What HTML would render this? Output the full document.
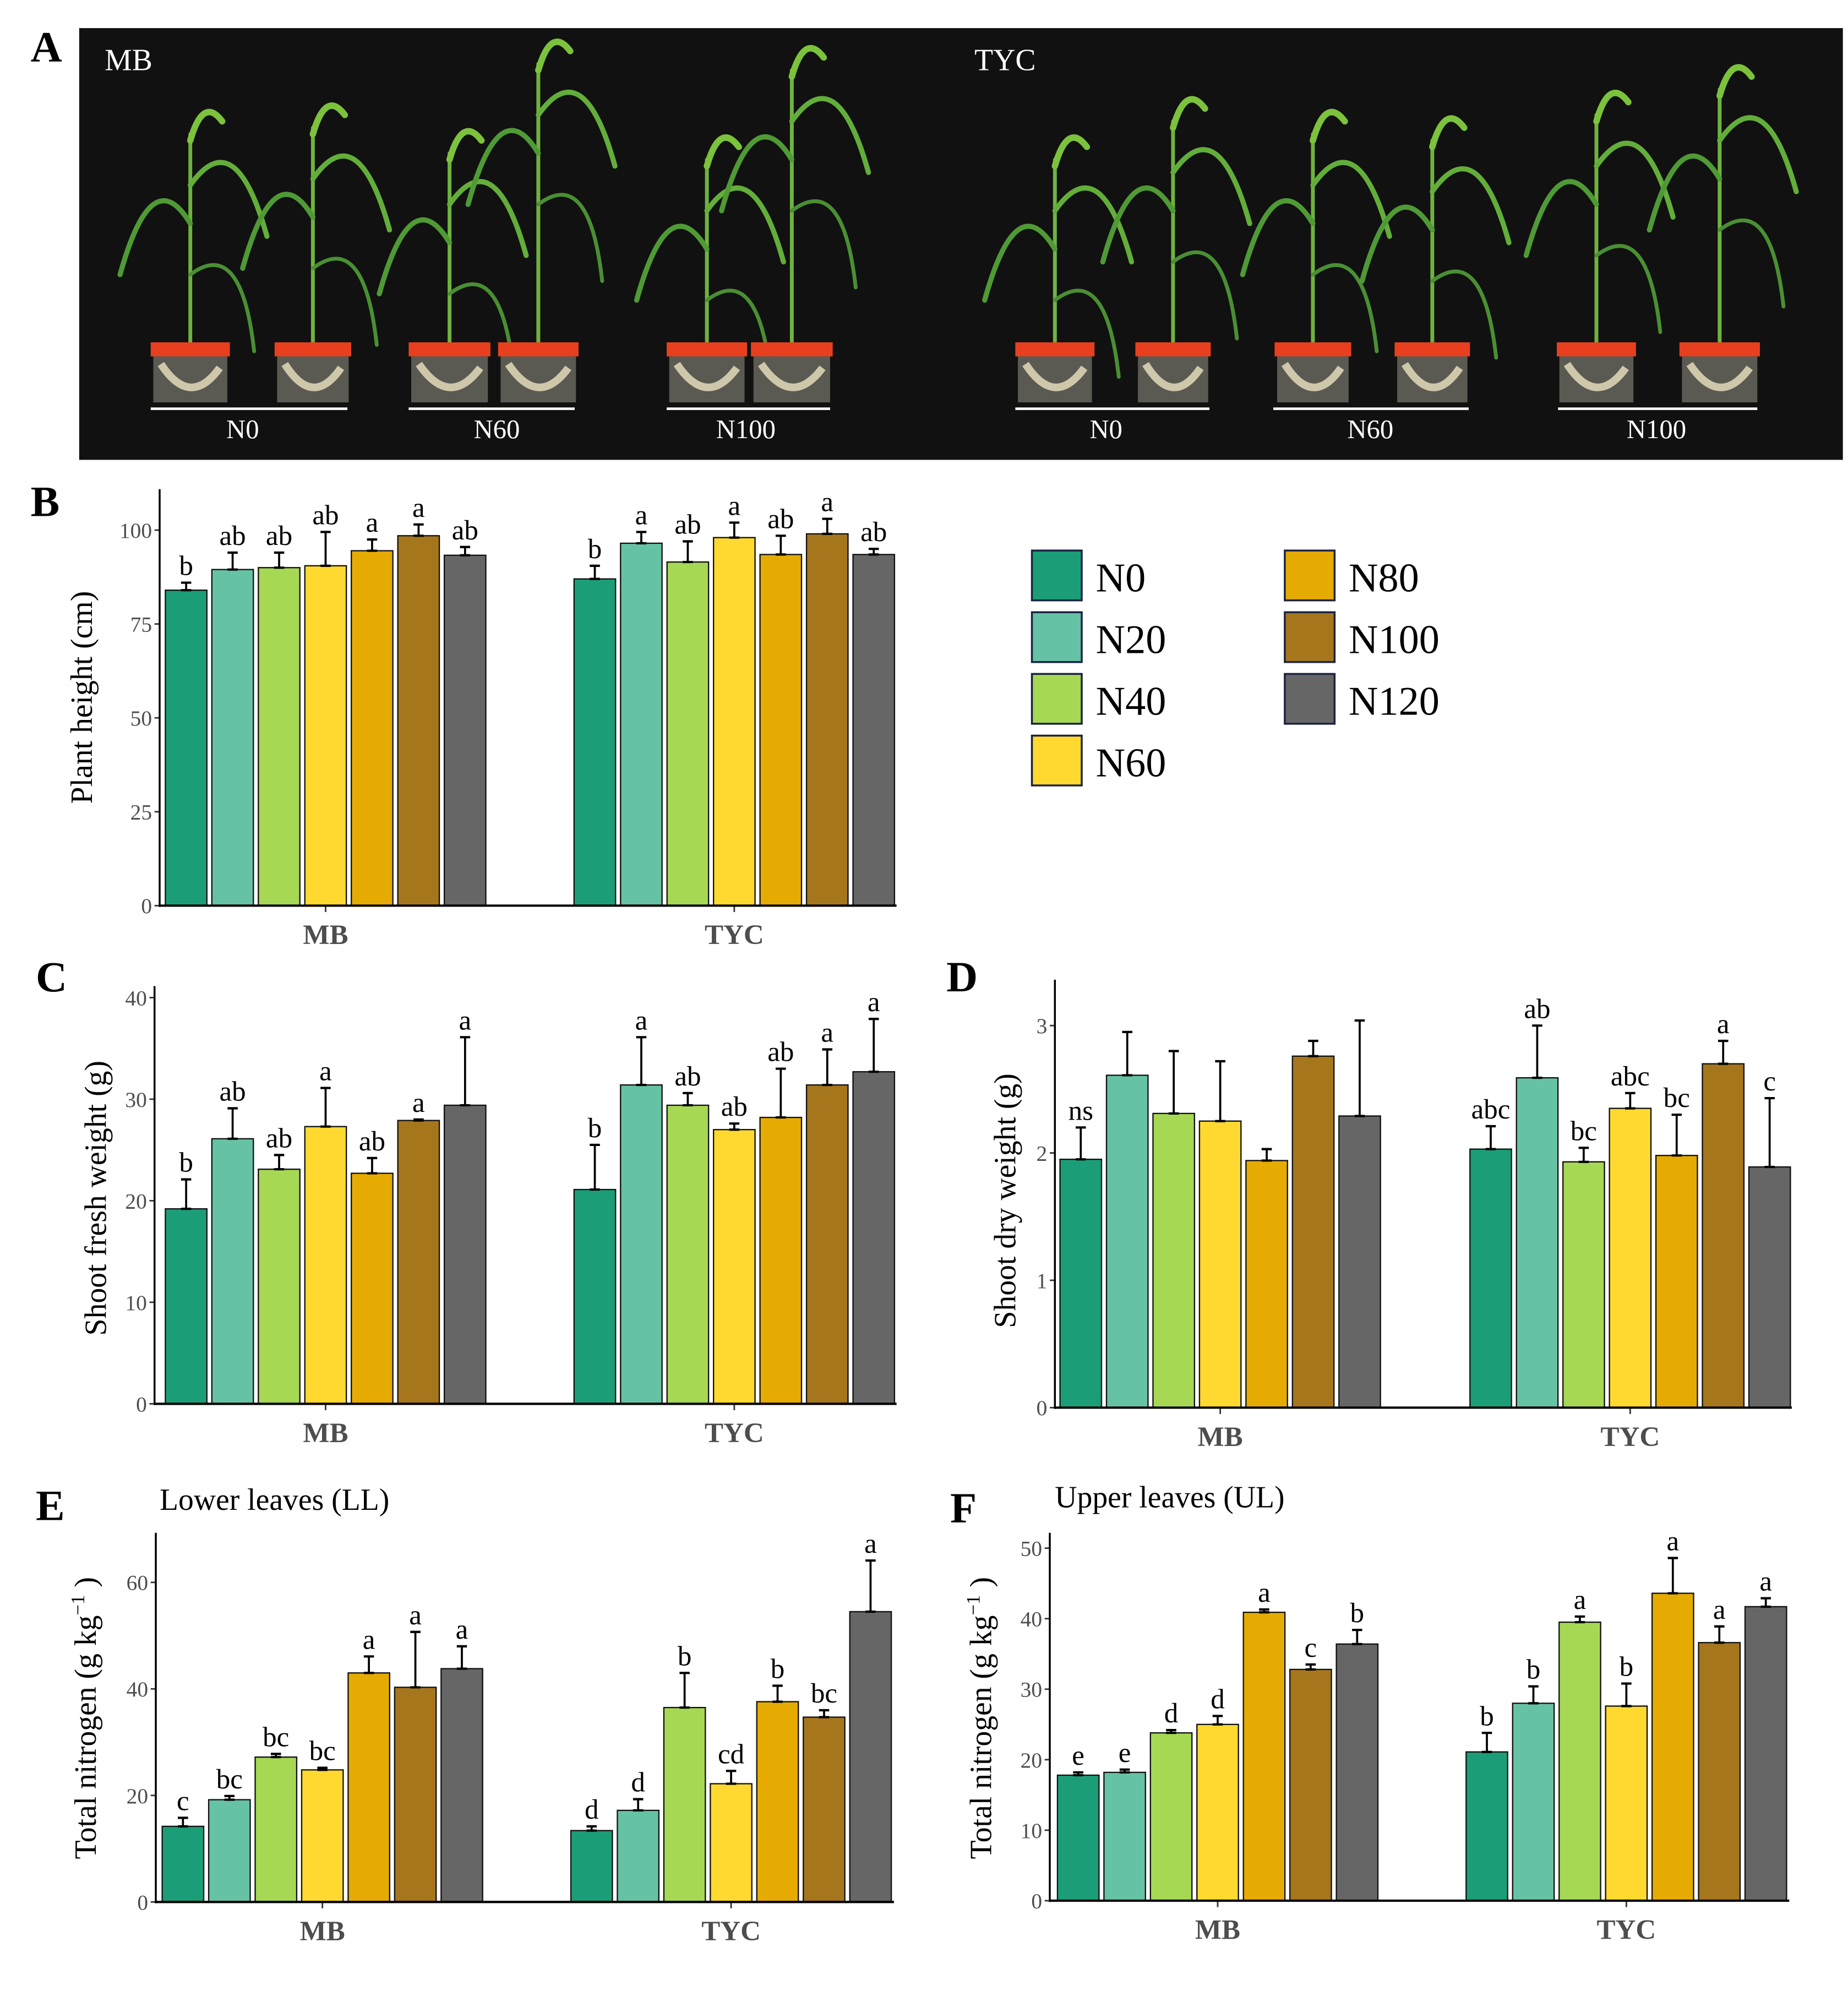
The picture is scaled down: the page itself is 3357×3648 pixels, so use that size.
<!DOCTYPE html>
<html><head><meta charset="utf-8"><style>
html,body{margin:0;padding:0;background:#fff}
svg{display:block}
text{font-family:"Liberation Serif",serif}
</style></head><body>
<svg id="fig" width="3357" height="3648" viewBox="0 0 1447 1572" preserveAspectRatio="none" xmlns="http://www.w3.org/2000/svg">
<g id="photo">
<rect x="62" y="22" width="1381" height="338" fill="#111"/>
</g>
<g id="charts"></g>
</svg>
<script>
const NS="http://www.w3.org/2000/svg";
const colors=["#1b9e77","#66c2a5","#a6d854","#ffd92f","#e6ab02","#a6761d","#666666"];
const treatments=["N0","N20","N40","N60","N80","N100","N120"];
const groups=["MB","TYC"];

const bMB=[84,89.5,90,90.5,94.5,98.5,93.3];
const bMBerr=[2,4.5,4,9,3,3,2.2];
const bTYC=[87,96.5,91.5,98,93.5,99,93.5];
const bTYCerr=[3.5,3,5.5,4,5,4,1.5];
const bMBlet=["b","ab","ab","ab","a","a","ab"];
const bTYClet=["b","a","ab","a","ab","a","ab"];
const bTicks=[0,25,50,75,100];

const cMB=[19.2,26.1,23.1,27.3,22.7,27.9,29.4];
const cMBerr=[2.9,3,1.4,3.8,1.5,0.1,6.7];
const cTYC=[21.1,31.4,29.4,27.0,28.2,31.4,32.7];
const cTYCerr=[4.4,4.7,1.2,0.6,4.8,3.5,5.2];
const cMBlet=["b","ab","ab","a","ab","a","a"];
const cTYClet=["b","a","ab","ab","ab","a","a"];
const cTicks=[0,10,20,30,40];

const dMB=[1.95,2.61,2.31,2.25,1.94,2.76,2.29];
const dMBerr=[0.25,0.34,0.49,0.47,0.09,0.12,0.75];
const dTYC=[2.03,2.59,1.93,2.35,1.98,2.70,1.89];
const dTYCerr=[0.18,0.41,0.11,0.12,0.32,0.18,0.54];
const dMBlet=["ns","","","","","",""];
const dTYClet=["abc","ab","bc","abc","bc","a","c"];
const dTicks=[0,1,2,3];

const eMB=[14.2,19.2,27.2,24.8,43.0,40.3,43.8];
const eMBerr=[1.6,0.7,0.6,0.4,3.1,10.4,4.2];
const eTYC=[13.4,17.2,36.5,22.2,37.6,34.7,54.5];
const eTYCerr=[0.8,2.1,6.5,2.4,3.0,1.3,9.6];
const eMBlet=["c","bc","bc","bc","a","a","a"];
const eTYClet=["d","d","b","cd","b","bc","a"];
const eTicks=[0,20,40,60];

const fMB=[17.8,18.2,23.8,25.0,40.9,32.8,36.4];
const fMBerr=[0.4,0.4,0.4,1.2,0.4,0.7,2.0];
const fTYC=[21.1,28.0,39.5,27.6,43.6,36.6,41.7];
const fTYCerr=[2.7,2.4,0.8,3.2,5.0,2.3,1.2];
const fMBlet=["e","e","d","d","a","c","b"];
const fTYClet=["b","b","a","b","a","a","a"];
const fTicks=[0,10,20,30,40,50];

function el(tag,attrs,parent,txt){
  const e=document.createElementNS(NS,tag);
  for(const k in attrs)e.setAttribute(k,attrs[k]);
  if(txt!==undefined)e.textContent=txt;
  (parent||document.getElementById('charts')).appendChild(e);
  return e;
}

function chart(cfg){
  const g=el('g',{});
  
  
  const y=v=>cfg.y0-(v-cfg.vmin)*cfg.ppu;
  // ticks
  cfg.ticks.forEach(t=>{
    const tl=el('text',{x:cfg.ax-6,y:y(t)+6,'text-anchor':'end','font-size':17,fill:'#4d4d4d'},g,String(t));
    
    
    el('line',{x1:cfg.ax-4,x2:cfg.ax,y1:y(t),y2:y(t),stroke:'#333','stroke-width':1.2},g);
  });
  const bw=32.5, step=36.4;
  const sets=[[cfg.mb,cfg.mbErr,cfg.mbLet,cfg.g1],[cfg.tyc,cfg.tycErr,cfg.tycLet,cfg.g2]];
  sets.forEach((s,gi)=>{
    s[0].forEach((v,i)=>{
      const x=s[3]+i*step;
      const r=el('rect',{x:x,y:y(v),width:bw,height:cfg.y0-y(v),fill:colors[i],stroke:'#111','stroke-width':1},g);
      
      
      const cx=x+bw/2, top=y(v+s[1][i]);
      el('line',{x1:cx,x2:cx,y1:y(v),y2:top,stroke:'#000','stroke-width':1.6},g);
      el('line',{x1:cx-4,x2:cx+4,y1:top,y2:top,stroke:'#000','stroke-width':1.8},g);
      el('line',{x1:cx-4,x2:cx+4,y1:y(v),y2:y(v),stroke:'#000','stroke-width':1.8},g);
      if(s[2][i]){
        const lt=el('text',{x:cx,y:top-6,'text-anchor':'middle','font-size':22,fill:'#000'},g,s[2][i]);
        
        
      }
    });
    const gc=s[3]+3*step+bw/2;
    el('line',{x1:gc,x2:gc,y1:cfg.y0,y2:cfg.y0+5,stroke:'#333','stroke-width':1.2},g);
    const xl=el('text',{x:gc,y:cfg.y0+30,'text-anchor':'middle','font-size':22,'font-weight':'bold',fill:'#4d4d4d'},g,groups[gi]);
    
    
  });
  el('line',{x1:cfg.ax,x2:cfg.ax,y1:cfg.ytop,y2:cfg.y0+1,stroke:'#000','stroke-width':1.5},g);
  el('line',{x1:cfg.ax,x2:cfg.axEnd,y1:cfg.y0,y2:cfg.y0,stroke:'#000','stroke-width':1.8},g);
  const yt=el('text',{x:0,y:0,'text-anchor':'middle','font-size':24,fill:'#000',transform:`translate(${cfg.ytx},${cfg.yty}) rotate(-90)`},g);
  
  
  if(cfg.sup){
    yt.textContent=cfg.title;
    const ts=el('tspan',{dy:-9,'font-size':15},yt,'−1');
    el('tspan',{dy:9},yt,' )');
  } else yt.textContent=cfg.title;
  const pl=el('text',{x:cfg.plx,y:cfg.ply,'font-size':34,'font-weight':'bold',fill:'#000'},g,cfg.letter);
  
  
  if(cfg.sub){
    const st=el('text',{x:cfg.subx,y:cfg.suby,'font-size':24,fill:'#000'},g,cfg.sub);
    
    
  }
}

chart({name:'panel-b-plant-height',letter:'B',plx:24,ply:404,ax:125,axEnd:702,y0:709,ytop:383,vmin:0,ppu:2.94,ticks:bTicks,g1:129.5,g2:449.5,mb:bMB,mbErr:bMBerr,mbLet:bMBlet,tyc:bTYC,tycErr:bTYCerr,tycLet:bTYClet,title:'Plant height (cm)',ytx:72,yty:546});
chart({name:'panel-c-shoot-fresh-weight',letter:'C',plx:28,ply:776,ax:121,axEnd:702,y0:1099,ytop:772,vmin:0,ppu:7.95,ticks:cTicks,g1:129.5,g2:449.5,mb:cMB,mbErr:cMBerr,mbLet:cMBlet,tyc:cTYC,tycErr:cTYCerr,tycLet:cTYClet,title:'Shoot fresh weight (g)',ytx:83,yty:938});
chart({name:'panel-d-shoot-dry-weight',letter:'D',plx:741,ply:776,ax:826,axEnd:1403,y0:1102,ytop:767,vmin:0,ppu:99.7,ticks:dTicks,g1:830,g2:1151,mb:dMB,mbErr:dMBerr,mbLet:dMBlet,tyc:dTYC,tycErr:dTYCerr,tycLet:dTYClet,title:'Shoot dry weight (g)',ytx:795,yty:940});
chart({name:'panel-e-total-nitrogen-ll',letter:'E',plx:28,ply:1190,ax:122,axEnd:700,y0:1489,ytop:1200,vmin:0,ppu:4.17,ticks:eTicks,g1:127,g2:447,mb:eMB,mbErr:eMBerr,mbLet:eMBlet,tyc:eTYC,tycErr:eTYCerr,tycLet:eTYClet,title:'Total nitrogen (g kg',sup:true,ytx:75,yty:1345,sub:'Lower leaves (LL)',subx:125,suby:1182});
chart({name:'panel-f-total-nitrogen-ul',letter:'F',plx:744,ply:1192,ax:822,axEnd:1401,y0:1488,ytop:1200,vmin:0,ppu:5.52,ticks:fTicks,g1:828,g2:1148,mb:fMB,mbErr:fMBerr,mbLet:fMBlet,tyc:fTYC,tycErr:fTYCerr,tycLet:fTYClet,title:'Total nitrogen (g kg',sup:true,ytx:776,yty:1345,sub:'Upper leaves (UL)',subx:826,suby:1180});

// legend
const lg=el('g',{});


treatments.forEach((t,i)=>{
  const col=i<4?0:1, row=i<4?i:i-4;
  const x=808+col*198, yy=431+row*48.3;
  const r=el('rect',{x:x,y:yy,width:39,height:39,fill:colors[i],stroke:'#1a2340','stroke-width':1.5},lg);
  
  
  const tx=el('text',{x:x+50,y:yy+32,'font-size':32,fill:'#000'},lg,t);
  
  
});

// Panel A photo (stylised)
const ph=document.getElementById('photo');
const pa=el('text',{x:24,y:48,'font-size':34,'font-weight':'bold',fill:'#000'},ph,'A');


const pots=[[118,62],[215,60],[320,64],[390,63],[522,63],[588,64],[795,62],[889,59],[998,60],[1092,59],[1219,62],[1315,63]];
const heights=[105,100,120,50,125,55,125,95,105,110,90,70];
pots.forEach((p,i)=>{
  const cx=p[0]+p[1]/2, h=heights[i];
  // leaves
  const lg2=el('g',{fill:'none',stroke:'#5aa83a','stroke-width':3,'stroke-linecap':'round'},ph);
  el('path',{d:`M${cx} 268 L${cx} ${h}`,stroke:'#6fb33f','stroke-width':3},lg2);
  el('path',{d:`M${cx} ${h+70} Q${cx-30} ${h+20} ${cx-55} ${h+110}`,stroke:'#4f9a35','stroke-width':4},lg2);
  el('path',{d:`M${cx} ${h+40} Q${cx+35} ${h-10} ${cx+60} ${h+80}`,stroke:'#63ae3a','stroke-width':4},lg2);
  el('path',{d:`M${cx} ${h+5} Q${cx+10} ${h-30} ${cx+25} ${h-10}`,stroke:'#7cc23c','stroke-width':5},lg2);
  el('path',{d:`M${cx} ${h+110} Q${cx+40} ${h+80} ${cx+50} ${h+170}`,stroke:'#4a8f33','stroke-width':3},lg2);
  el('rect',{x:p[0],y:268,width:p[1],height:11,fill:'#e8401e'},ph);
  el('rect',{x:p[0]+2,y:279,width:p[1]-4,height:36,fill:'#5a5a52'},ph);
  el('path',{d:`M${p[0]+8} 285 Q${cx} 320 ${p[0]+p[1]-8} 288`,stroke:'#cfc7aa','stroke-width':6,fill:'none'},ph);
});
[[118,272,190,'N0'],[320,450,389,'N60'],[522,650,584,'N100'],[795,947,866,'N0'],[997,1150,1073,'N60'],[1220,1376,1297,'N100']].forEach(u=>{
  el('line',{x1:u[0],x2:u[1],y1:320,y2:320,stroke:'#fff','stroke-width':2},ph);
  const t=el('text',{x:u[2],y:343,'text-anchor':'middle','font-size':21,fill:'#fff'},ph,u[3]);
  
  
});
[[82,'MB'],[763,'TYC']].forEach(m=>{
  const t=el('text',{x:m[0],y:55,'font-size':24,fill:'#fff'},ph,m[1]);
  
  
});
</script>
</body></html>
